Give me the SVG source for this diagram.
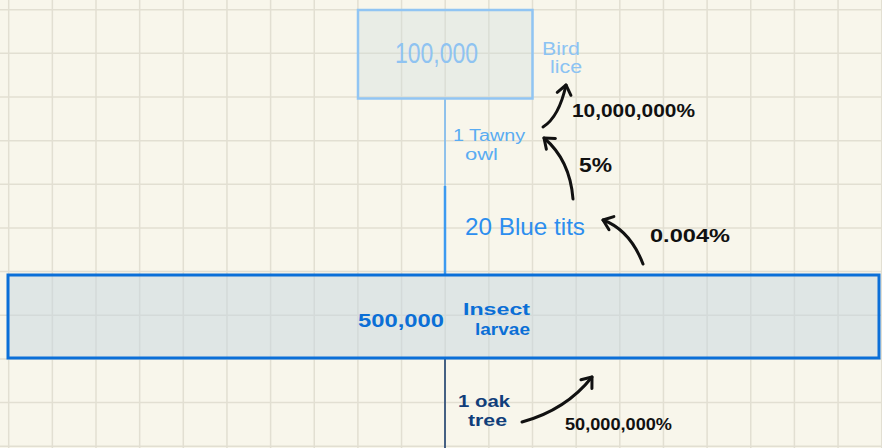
<svg xmlns="http://www.w3.org/2000/svg" width="882" height="448" viewBox="0 0 882 448">
<defs>
<style>
text{font-family:"Liberation Sans",Arial,sans-serif;}
.grid{stroke:#e2dfd2;stroke-width:1.5;fill:none}
.pct{fill:#111;font-weight:bold}
.arrow{fill:none;stroke:#111;stroke-width:3;stroke-linecap:round}
</style>
<marker id="head" markerUnits="userSpaceOnUse" markerWidth="24" markerHeight="24" viewBox="-12 -12 24 24" refX="0" refY="0" orient="auto">
<path d="M-9,-7 L0,0 L-9,7" fill="none" stroke="#111" stroke-width="3" stroke-linecap="round" stroke-linejoin="round"/>
</marker>
</defs>
<rect x="0" y="0" width="882" height="448" fill="#f8f6eb"/>
<path class="grid" d="M8.7,0V448M52.35,0V448M96,0V448M139.65,0V448M183.3,0V448M226.95,0V448M270.6,0V448M314.25,0V448M357.9,0V448M401.55,0V448M445.2,0V448M488.85,0V448M532.5,0V448M576.15,0V448M619.8,0V448M663.45,0V448M707.1,0V448M750.75,0V448M794.4,0V448M838.05,0V448M881.7,0V448M0,9.7H882M0,53.35H882M0,97H882M0,140.65H882M0,184.3H882M0,227.95H882M0,271.6H882M0,315.25H882M0,358.9H882M0,402.55H882M0,446.2H882"/>
<g id="connectors">
<line x1="445" y1="99" x2="445" y2="186" stroke="#7ab8f0" stroke-width="1.6"/>
<line x1="445" y1="186" x2="445" y2="274" stroke="#3c9af0" stroke-width="2.5"/>
<line x1="445" y1="359" x2="445" y2="448" stroke="#1d3f6e" stroke-width="1.6"/>
<path class="arrow" d="M522,422 Q566,410 592,377" marker-end="url(#head)"/>
<path class="arrow" d="M643,264 Q630,230 603,220" marker-end="url(#head)"/>
<path class="arrow" d="M573,199 Q570,160 544,138" marker-end="url(#head)"/>
<path class="arrow" d="M543,127 Q559,117 566,85" marker-end="url(#head)"/>
<text class="pct" x="565" y="430" font-size="17" textLength="107" lengthAdjust="spacingAndGlyphs">50,000,000%</text>
<text class="pct" x="650" y="242" font-size="19" textLength="80" lengthAdjust="spacingAndGlyphs">0.004%</text>
<text class="pct" x="579" y="172" font-size="20" textLength="33" lengthAdjust="spacingAndGlyphs">5%</text>
<text class="pct" x="572" y="117" font-size="19" textLength="123" lengthAdjust="spacingAndGlyphs">10,000,000%</text>
</g>
<g id="node-bird-lice">
<rect x="358" y="10" width="174.5" height="88.5" fill="#cfdcdc" fill-opacity="0.35" stroke="#91c5f3" stroke-width="2.5"/>
<text x="395" y="63" font-size="30" fill="#8fc3f1" textLength="83" lengthAdjust="spacingAndGlyphs">100,000</text>
<text x="542" y="55" font-size="18" fill="#8cc3f3" textLength="38" lengthAdjust="spacingAndGlyphs">Bird</text>
<text x="550" y="73" font-size="18" fill="#8cc3f3" textLength="32" lengthAdjust="spacingAndGlyphs">lice</text>
</g>
<g id="node-tawny-owl">
<text x="453" y="141" font-size="16" fill="#5aacf2" textLength="72" lengthAdjust="spacingAndGlyphs">1 Tawny</text>
<text x="465" y="160" font-size="16" fill="#5aacf2" textLength="33" lengthAdjust="spacingAndGlyphs">owl</text>
</g>
<g id="node-blue-tits">
<text x="465" y="235" font-size="24" fill="#2c8eef" textLength="120" lengthAdjust="spacingAndGlyphs">20 Blue tits</text>
</g>
<g id="node-insect-larvae">
<rect x="8" y="275" width="871" height="83" fill="#c6d6df" fill-opacity="0.5" stroke="#0b6fd8" stroke-width="3"/>
<text x="358" y="327" font-size="18" font-weight="bold" fill="#0b6fd6" textLength="86" lengthAdjust="spacingAndGlyphs">500,000</text>
<text x="463" y="315" font-size="17" font-weight="bold" fill="#0b6fd6" textLength="67" lengthAdjust="spacingAndGlyphs">Insect</text>
<text x="475" y="335" font-size="17" font-weight="bold" fill="#0b6fd6" textLength="55" lengthAdjust="spacingAndGlyphs">larvae</text>
</g>
<g id="node-oak-tree">
<text x="458" y="407" font-size="16" font-weight="bold" fill="#113e7a" textLength="52" lengthAdjust="spacingAndGlyphs">1 oak</text>
<text x="468" y="426" font-size="16" font-weight="bold" fill="#113e7a" textLength="39" lengthAdjust="spacingAndGlyphs">tree</text>
</g>
</svg>
